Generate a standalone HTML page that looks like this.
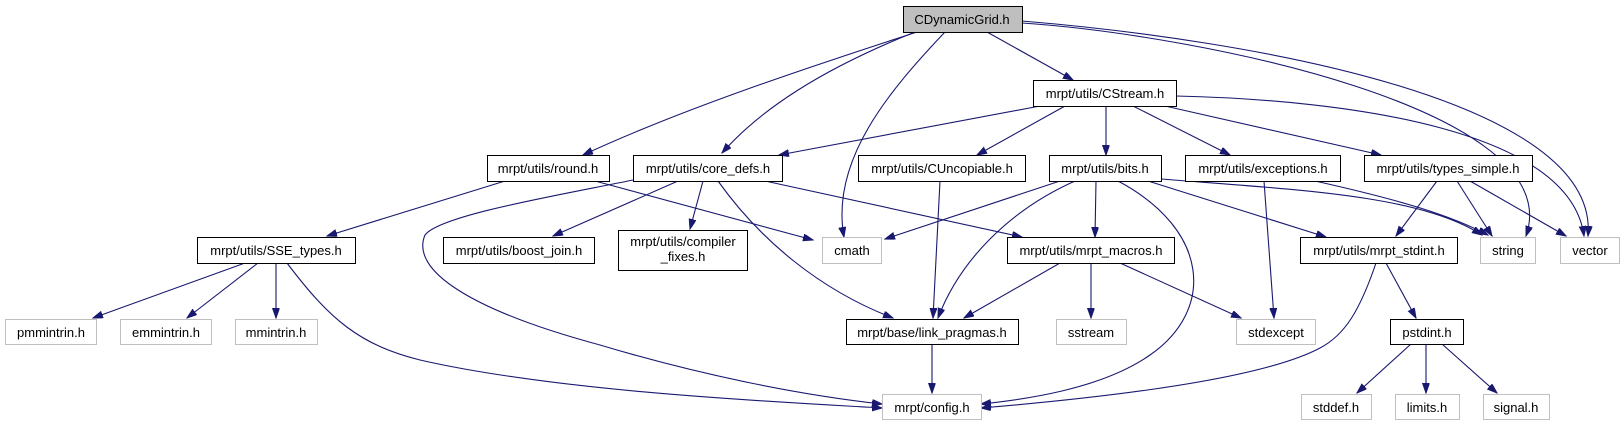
<!DOCTYPE html>
<html><head><meta charset="utf-8"><style>
html,body{margin:0;padding:0;background:#fff;}
svg{display:block;}
text{font-family:"Liberation Sans",sans-serif;font-size:13px;fill:#000;text-anchor:middle;}
.n{fill:#fff;stroke:#000;stroke-width:1;}
.g{fill:#fff;stroke:#bfbfbf;stroke-width:1;}
.e{fill:none;stroke:#191970;stroke-width:1.1;marker-end:url(#a);}
</style></head><body>
<svg width="1624" height="425" viewBox="0 0 1624 425" xmlns="http://www.w3.org/2000/svg">
<defs><marker id="a" markerWidth="11" markerHeight="8" refX="10" refY="3.5" orient="auto" markerUnits="userSpaceOnUse"><polygon points="0,0 10,3.5 0,7" fill="#191970" stroke="#191970"/></marker></defs>
<!-- edges -->
<path class="e" d="M917,32 C800,70 680,110 583,155"/>
<path class="e" d="M915,32 C820,70 760,110 722,153"/>
<path class="e" d="M945,32 C890,90 830,160 844,237"/>
<path class="e" d="M987,32 L1073,80"/>
<path class="e" d="M1022,23 C1200,35 1570,110 1526,236"/>
<path class="e" d="M1022,21 C1250,40 1600,100 1588,236"/>
<path class="e" d="M1040,106 L779,155"/>
<path class="e" d="M1065,106 L977,155"/>
<path class="e" d="M1106,106 L1106,155"/>
<path class="e" d="M1133,106 L1230,155"/>
<path class="e" d="M1165,106 L1381,155"/>
<path class="e" d="M1176,96 C1350,100 1570,130 1584,236"/>
<path class="e" d="M505,181 L327,236"/>
<path class="e" d="M595,181 L813,240"/>
<path class="e" d="M633,180 C560,195 440,215 425,235 C410,270 470,310 600,345 C700,375 800,395 882,404"/>
<path class="e" d="M678,181 L553,236"/>
<path class="e" d="M703,181 L690,229"/>
<path class="e" d="M718,181 C760,240 820,290 893,318"/>
<path class="e" d="M765,181 L1022,237"/>
<path class="e" d="M940,181 L933,318"/>
<path class="e" d="M1060,181 L885,239"/>
<path class="e" d="M1075,181 C1010,210 960,260 938,318"/>
<path class="e" d="M1096,181 L1095,237"/>
<path class="e" d="M1118,181 C1210,230 1215,310 1150,355 C1100,390 1020,400 981,404"/>
<path class="e" d="M1148,181 L1326,237"/>
<path class="e" d="M1161,179 C1300,190 1420,195 1482,235"/>
<path class="e" d="M1315,181 C1400,200 1450,215 1488,235"/>
<path class="e" d="M1264,181 L1274,318"/>
<path class="e" d="M1437,181 L1396,236"/>
<path class="e" d="M1457,181 L1492,236"/>
<path class="e" d="M1470,181 L1566,236"/>
<path class="e" d="M245,263 L93,318"/>
<path class="e" d="M258,263 L187,318"/>
<path class="e" d="M276,263 L276,318"/>
<path class="e" d="M287,263 C330,320 360,345 420,360 C560,392 780,402 882,408"/>
<path class="e" d="M1060,263 L964,318"/>
<path class="e" d="M1091,263 L1091,318"/>
<path class="e" d="M1120,263 L1241,318"/>
<path class="e" d="M1376,263 C1360,310 1345,335 1320,348 C1260,380 1100,398 981,408"/>
<path class="e" d="M1386,263 L1416,318"/>
<path class="e" d="M932,344 L932,393"/>
<path class="e" d="M1411,344 L1357,393"/>
<path class="e" d="M1426,344 L1426,393"/>
<path class="e" d="M1442,344 L1497,393"/>
<!-- nodes -->
<rect x="903.5" y="6.5" width="119" height="26" fill="#bfbfbf" stroke="#000"/><text x="962" y="24">CDynamicGrid.h</text>
<rect class="n" x="1033.5" y="80.5" width="143" height="26"/><text x="1105" y="98">mrpt/utils/CStream.h</text>
<rect class="n" x="487.5" y="155.5" width="122" height="26"/><text x="548" y="173">mrpt/utils/round.h</text>
<rect class="n" x="633.5" y="155.5" width="149" height="26"/><text x="708" y="173">mrpt/utils/core_defs.h</text>
<rect class="n" x="858.5" y="155.5" width="167" height="26"/><text x="942" y="173">mrpt/utils/CUncopiable.h</text>
<rect class="n" x="1049.5" y="155.5" width="112" height="26"/><text x="1105" y="173">mrpt/utils/bits.h</text>
<rect class="n" x="1185.5" y="155.5" width="155" height="26"/><text x="1263" y="173">mrpt/utils/exceptions.h</text>
<rect class="n" x="1364.5" y="155.5" width="168" height="26"/><text x="1448" y="173">mrpt/utils/types_simple.h</text>
<rect class="n" x="197.5" y="237.5" width="158" height="26"/><text x="276" y="255">mrpt/utils/SSE_types.h</text>
<rect class="n" x="443.5" y="237.5" width="151" height="26"/><text x="519" y="255">mrpt/utils/boost_join.h</text>
<rect class="n" x="618.5" y="230.5" width="129" height="40"/><text x="683" y="246">mrpt/utils/compiler</text><text x="683" y="261">_fixes.h</text>
<rect class="g" x="822.5" y="237.5" width="59" height="26"/><text x="852" y="255">cmath</text>
<rect class="n" x="1007.5" y="237.5" width="167" height="26"/><text x="1091" y="255">mrpt/utils/mrpt_macros.h</text>
<rect class="n" x="1300.5" y="237.5" width="157" height="26"/><text x="1379" y="255">mrpt/utils/mrpt_stdint.h</text>
<rect class="g" x="1480.5" y="237.5" width="55" height="26"/><text x="1508" y="255">string</text>
<rect class="g" x="1560.5" y="237.5" width="59" height="26"/><text x="1590" y="255">vector</text>
<rect class="g" x="5.5" y="319.5" width="91" height="25"/><text x="51" y="337">pmmintrin.h</text>
<rect class="g" x="120.5" y="319.5" width="91" height="25"/><text x="166" y="337">emmintrin.h</text>
<rect class="g" x="235.5" y="319.5" width="82" height="25"/><text x="276" y="337">mmintrin.h</text>
<rect class="n" x="846.5" y="319.5" width="172" height="25"/><text x="932" y="337">mrpt/base/link_pragmas.h</text>
<rect class="g" x="1056.5" y="319.5" width="70" height="25"/><text x="1091" y="337">sstream</text>
<rect class="g" x="1236.5" y="319.5" width="79" height="25"/><text x="1276" y="337">stdexcept</text>
<rect class="n" x="1390.5" y="319.5" width="73" height="25"/><text x="1427" y="337">pstdint.h</text>
<rect class="g" x="882.5" y="394.5" width="99" height="25"/><text x="932" y="412">mrpt/config.h</text>
<rect class="g" x="1301.5" y="394.5" width="70" height="25"/><text x="1336" y="412">stddef.h</text>
<rect class="g" x="1395.5" y="394.5" width="64" height="25"/><text x="1427" y="412">limits.h</text>
<rect class="g" x="1483.5" y="394.5" width="66" height="25"/><text x="1516" y="412">signal.h</text>
</svg>
</body></html>
